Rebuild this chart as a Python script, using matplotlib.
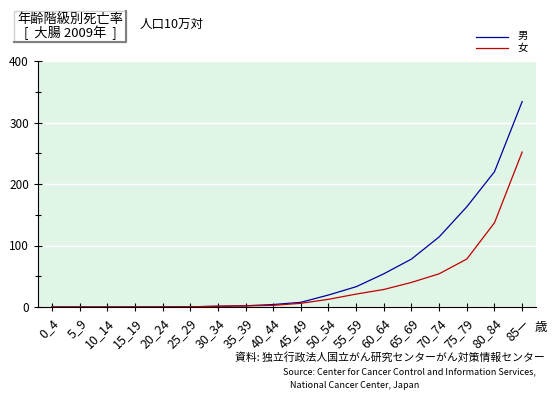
import matplotlib.pyplot as plt
from matplotlib.patches import Rectangle
from matplotlib.ticker import MultipleLocator

plt.rcParams['font.family'] = ['Noto Sans CJK JP', 'DejaVu Sans']

ages = ['0_4', '5_9', '10_14', '15_19', '20_24', '25_29', '30_34', '35_39', '40_44',
        '45_49', '50_54', '55_59', '60_64', '65_69', '70_74', '75_79', '80_84', '85\u2014']
male = [0.1, 0, 0, 0.1, 0.1, 0.3, 1.2, 2, 4, 7.6, 19.5, 33, 54, 78, 114, 163, 220, 334]
female = [0, 0, 0, 0, 0.1, 0.3, 1.3, 1.8, 2.7, 6, 12.5, 21, 28.5, 40, 54, 78, 137, 252]

W, H = 556, 395
fig = plt.figure(figsize=(W/100, H/100), dpi=100)
ax = fig.add_axes([38/W, 1-307/H, 498/W, 246/H])
ax.set_facecolor('#e0f5e6')

x = list(range(len(ages)))
ax.plot(x, male, color='#0000a0', lw=0.9)
ax.plot(x, female, color='#c00000', lw=0.9)

ax.set_xlim(-0.5, len(ages) - 0.5)
ax.set_ylim(0, 400)
ax.yaxis.set_major_locator(MultipleLocator(100))
ax.yaxis.set_minor_locator(MultipleLocator(50))
ax.grid(axis='y', color='white', lw=1)
ax.set_axisbelow(True)
for s in ['top', 'right']:
    ax.spines[s].set_visible(False)
ax.tick_params(axis='both', which='both', direction='inout', length=6, width=0.8, labelsize=8.5)
ax.tick_params(axis='y', which='minor', length=5)
ax.tick_params(axis='x', pad=4)
ax.set_xticks(x)
ax.set_xticklabels(ages, rotation=45, ha='right', rotation_mode='anchor', fontsize=9)

fig.text(535/W, 1-327/H, '歳', fontsize=9, ha='left', va='center')

# title box with raised border
box = Rectangle((14/W, 1-42/H), 112/W, 31/H, transform=fig.transFigure,
                facecolor='white', edgecolor='#d0d0d0', lw=1)
fig.patches.append(box)
fig.lines.append(plt.Line2D([14/W, 126/W, 126/W], [1-42/H, 1-42/H, 1-11/H],
                            transform=fig.transFigure, color='#808080', lw=1.5))
fig.text(70/W, 1-19/H, '年齢階級別死亡率', fontsize=9.5, ha='center', va='center')
fig.text(70/W, 1-33/H, '[  大腸 2009年  ]', fontsize=9.5, ha='center', va='center')
fig.text(140/W, 1-24/H, '人口10万対', fontsize=9, ha='left', va='center')

# legend
fig.lines.append(plt.Line2D([476/W, 508/W], [1-37/H, 1-37/H], transform=fig.transFigure,
                            color='#0000a0', lw=0.9))
fig.lines.append(plt.Line2D([476/W, 508/W], [1-48/H, 1-48/H], transform=fig.transFigure,
                            color='#c00000', lw=0.9))
fig.text(518/W, 1-36/H, '男', fontsize=7.5, ha='left', va='center')
fig.text(518/W, 1-48/H, '女', fontsize=7.5, ha='left', va='center')

# source
fig.text(545/W, 1-358/H, '資料: 独立行政法人国立がん研究センターがん対策情報センター',
         fontsize=7.8, ha='right', va='center')
fig.text(283/W, 1-372/H, 'Source: Center for Cancer Control and Information Services,',
         fontsize=6.5, ha='left', va='center')
fig.text(290/W, 1-385/H, 'National Cancer Center, Japan', fontsize=6.5, ha='left', va='center')

fig.savefig('out.png', dpi=100)
